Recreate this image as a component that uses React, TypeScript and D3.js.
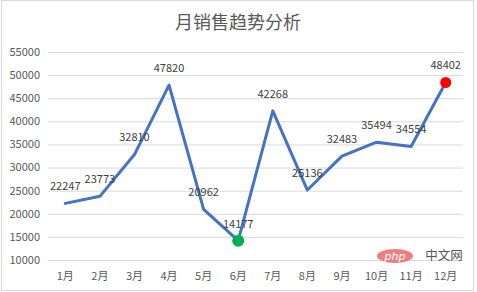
import React from "react";
import * as d3 from "d3";

const months = ["1月", "2月", "3月", "4月", "5月", "6月", "7月", "8月", "9月", "10月", "11月", "12月"];
const sales = [22247, 23773, 32810, 47820, 20962, 14177, 42268, 25136, 32483, 35494, 34554, 48402];
const yTicks = [10000, 15000, 20000, 25000, 30000, 35000, 40000, 45000, 50000, 55000];
const title = "月销售趋势分析";

const W = 477;
const H = 292;
const font = "'Noto Sans CJK SC', 'Noto Sans', sans-serif";

export default function App() {
  const x = d3.scaleBand<string>().domain(months).range([48, 463]);
  const y = d3.scaleLinear().domain([10000, 55000]).range([260, 52]);
  const cx = (m: string) => (x(m) as number) + x.bandwidth() / 2;
  const line = d3
    .line<number>()
    .x((_, i) => cx(months[i]))
    .y((d) => y(d));
  const maxV = d3.max(sales) as number;
  const minV = d3.min(sales) as number;
  const iMax = sales.indexOf(maxV);
  const iMin = sales.indexOf(minV);

  return (
    <svg width={W} height={H} style={{ position: "absolute", left: 0, top: 0, background: "#fff" }}>
      <rect x={0} y={0} width={W} height={H} fill="#fff" />
      <rect x={1.5} y={0.5} width={472} height={290} fill="none" stroke="#D9D9D9" />
      <text x={238} y={29} textAnchor="middle" fontFamily={font} fontSize={18} fill="#595959">
        {title}
      </text>
      {yTicks.map((t) => (
        <g key={t}>
          <line x1={48} x2={463} y1={y(t) + 0.5} y2={y(t) + 0.5} stroke="#D9D9D9" strokeWidth={1} />
          <text x={40} y={y(t)} dy="0.35em" textAnchor="end" fontFamily={font} fontSize={11} fill="#595959">
            {t}
          </text>
        </g>
      ))}
      {months.map((m) => (
        <text key={m} x={cx(m)} y={276} dy="0.35em" textAnchor="middle" fontFamily={font} fontSize={11} fill="#595959">
          {m}
        </text>
      ))}
      <path d={line(sales) as string} fill="none" stroke="#4472C4" strokeWidth={3} strokeLinejoin="round" strokeLinecap="round" />
      <circle cx={cx(months[iMin])} cy={y(minV)} r={6} fill="#00B050" />
      <circle cx={cx(months[iMax])} cy={y(maxV)} r={5.5} fill="#FF0000" />
      {sales.map((v, i) => (
        <text key={i} x={cx(months[i])} y={y(v) - 17} dy="0.35em" textAnchor="middle" fontFamily={font} fontSize={11} fill="#404040">
          {v}
        </text>
      ))}
      <g>
        <ellipse cx={395} cy={256} rx={18} ry={7} fill="#E8686B" opacity={0.85} />
        <text x={395} y={256} dy="0.35em" textAnchor="middle" fontFamily="'DejaVu Sans', sans-serif" fontStyle="italic" fontSize={11} fill="#fff">
          php
        </text>
        <text x={444} y={256} dy="0.35em" textAnchor="middle" fontFamily={font} fontSize={12.5} fill="#555">
          中文网
        </text>
      </g>
    </svg>
  );
}
